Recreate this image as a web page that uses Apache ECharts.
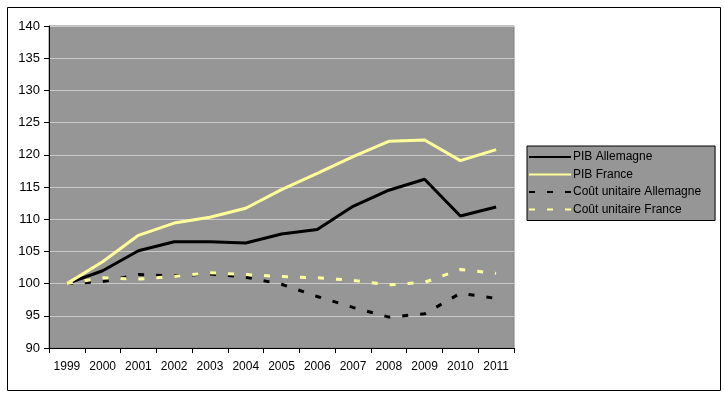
<!DOCTYPE html>
<html>
<head>
<meta charset="utf-8">
<script src="https://cdn.jsdelivr.net/npm/echarts@6/dist/echarts.min.js"></script>
<style>
html,body{margin:0;padding:0;background:#fff;}
#c{width:724px;height:394px;}
</style>
</head>
<body>
<div id="c"></div>
<script>
const years = ['1999','2000','2001','2002','2003','2004','2005','2006','2007','2008','2009','2010','2011'];
const pibAllemagne = [100, 102.0, 105.1, 106.5, 106.5, 106.3, 107.7, 108.4, 112.0, 114.5, 116.2, 110.5, 111.9];
const pibFrance = [100, 103.4, 107.5, 109.4, 110.3, 111.7, 114.6, 117.1, 119.7, 122.1, 122.3, 119.1, 120.8];
const coutAllemagne = [100, 100.3, 101.4, 101.2, 101.5, 101.0, 99.9, 98.0, 96.3, 94.8, 95.3, 98.5, 97.7];
const coutFrance = [100, 100.9, 100.7, 101.1, 101.7, 101.4, 101.1, 100.9, 100.5, 99.8, 100.2, 102.2, 101.6];
const seriesNames = ['PIB Allemagne', 'PIB France', 'Coût unitaire Allemagne', 'Coût unitaire France'];

const font = 'Liberation Sans, Arial, sans-serif';
const chart = echarts.init(document.getElementById('c'), null, {renderer: 'canvas'});
function mk(name, data, color, dashed) {
  return {
    name: name, type: 'line', data: data, symbol: 'none', smooth: false,
    lineStyle: {color: color, width: 3, type: dashed ? [6, 12] : 'solid', cap: 'butt'},
    itemStyle: {color: color},
    animation: false
  };
}
chart.setOption({
  animation: false,
  backgroundColor: '#ffffff',
  graphic: [{
    type: 'rect', left: 5, top: 5, z: -1,
    shape: {width: 713, height: 383},
    style: {fill: 'none', stroke: '#000', lineWidth: 1}
  }],
  grid: {left: 49, top: 26, right: 210, bottom: 46, show: true,
    backgroundColor: '#969696', borderColor: '#808080', borderWidth: 1},
  xAxis: {
    type: 'category', data: years, boundaryGap: true,
    axisLine: {lineStyle: {color: '#000', width: 1}},
    axisTick: {show: true, length: 5, lineStyle: {color: '#000'}, alignWithLabel: false},
    axisLabel: {color: '#000', fontFamily: font, fontSize: 12, margin: 13, interval: 0},
    splitLine: {show: false}
  },
  yAxis: {
    type: 'value', min: 90, max: 140, interval: 5,
    axisLine: {show: true, lineStyle: {color: '#000', width: 1}},
    axisTick: {show: true, length: 5, lineStyle: {color: '#000'}},
    axisLabel: {color: '#000', fontFamily: font, fontSize: 13, margin: 9},
    splitLine: {show: true, lineStyle: {color: '#c8c8c8', width: 1}}
  },
  legend: {
    orient: 'vertical', left: 527, top: 146, width: 180,
    backgroundColor: '#969696', borderColor: '#000', borderWidth: 1,
    padding: [5, 14, 5, 1], itemGap: 5.5, itemWidth: 42, itemHeight: 14,
    itemStyle: {opacity: 0},
    textStyle: {color: '#000', fontFamily: font, fontSize: 12, padding: [0, 0, 0, -3]},
    data: seriesNames
  },
  series: [
    mk(seriesNames[0], pibAllemagne, '#000000', false),
    mk(seriesNames[1], pibFrance, '#ffff99', false),
    mk(seriesNames[2], coutAllemagne, '#000000', true),
    mk(seriesNames[3], coutFrance, '#ffff99', true)
  ]
});
</script>
</body>
</html>
